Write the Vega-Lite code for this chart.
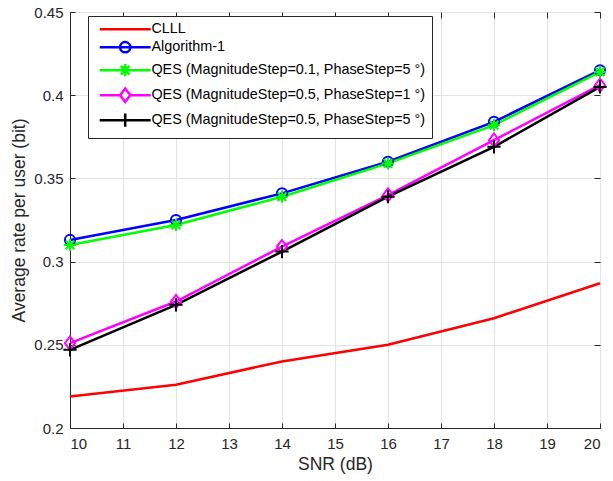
{
  "$schema": "https://vega.github.io/schema/vega-lite/v6.json",
  "width": 530,
  "height": 416,
  "autosize": {"type": "none"},
  "padding": {"left": 70, "top": 12, "right": 13, "bottom": 53},
  "background": "white",
  "config": {
    "font": "Liberation Sans",
    "view": {"stroke": "#262626", "strokeWidth": 1},
    "axis": {
      "domainColor": "#262626",
      "tickColor": "#262626",
      "labelColor": "#262626",
      "titleColor": "#262626",
      "labelFont": "Liberation Sans",
      "titleFont": "Liberation Sans",
      "labelFontSize": 15,
      "titleFontSize": 17.5,
      "titleFontWeight": "normal",
      "gridColor": "#e3e3e3",
      "gridWidth": 1,
      "tickSize": -5
    },
    "legend": {
      "orient": "none",
      "legendX": 18,
      "legendY": 4,
      "fillColor": "white",
      "strokeColor": "#262626",
      "padding": 6,
      "symbolSize": 104,
      "symbolStrokeWidth": 2.5,
      "symbolOpacity": 1,
      "symbolOffset": 24,
      "labelOffset": 19,
      "labelFontSize": 14.4,
      "labelFont": "Liberation Sans",
      "labelColor": "#000000",
      "labelLimit": 400,
      "rowPadding": 1
    }
  },
  "resolve": {
    "axis": {"x": "independent", "y": "independent"},
    "scale": {"shape": "independent", "stroke": "independent"},
    "legend": {"shape": "independent", "stroke": "independent"}
  },
  "data": {
    "values": [
      {"snr": 10, "rate": 0.219, "series": "CLLL"},
      {"snr": 12, "rate": 0.226, "series": "CLLL"},
      {"snr": 14, "rate": 0.240, "series": "CLLL"},
      {"snr": 16, "rate": 0.250, "series": "CLLL"},
      {"snr": 18, "rate": 0.266, "series": "CLLL"},
      {"snr": 20, "rate": 0.287, "series": "CLLL"},
      {"snr": 10, "rate": 0.313, "series": "Algorithm-1"},
      {"snr": 12, "rate": 0.325, "series": "Algorithm-1"},
      {"snr": 14, "rate": 0.341, "series": "Algorithm-1"},
      {"snr": 16, "rate": 0.360, "series": "Algorithm-1"},
      {"snr": 18, "rate": 0.384, "series": "Algorithm-1"},
      {"snr": 20, "rate": 0.415, "series": "Algorithm-1"},
      {"snr": 10, "rate": 0.310, "series": "QES (MagnitudeStep=0.1, PhaseStep=5 °)"},
      {"snr": 12, "rate": 0.322, "series": "QES (MagnitudeStep=0.1, PhaseStep=5 °)"},
      {"snr": 14, "rate": 0.339, "series": "QES (MagnitudeStep=0.1, PhaseStep=5 °)"},
      {"snr": 16, "rate": 0.359, "series": "QES (MagnitudeStep=0.1, PhaseStep=5 °)"},
      {"snr": 18, "rate": 0.382, "series": "QES (MagnitudeStep=0.1, PhaseStep=5 °)"},
      {"snr": 20, "rate": 0.414, "series": "QES (MagnitudeStep=0.1, PhaseStep=5 °)"},
      {"snr": 10, "rate": 0.251, "series": "QES (MagnitudeStep=0.5, PhaseStep=1 °)"},
      {"snr": 12, "rate": 0.276, "series": "QES (MagnitudeStep=0.5, PhaseStep=1 °)"},
      {"snr": 14, "rate": 0.309, "series": "QES (MagnitudeStep=0.5, PhaseStep=1 °)"},
      {"snr": 16, "rate": 0.340, "series": "QES (MagnitudeStep=0.5, PhaseStep=1 °)"},
      {"snr": 18, "rate": 0.373, "series": "QES (MagnitudeStep=0.5, PhaseStep=1 °)"},
      {"snr": 20, "rate": 0.406, "series": "QES (MagnitudeStep=0.5, PhaseStep=1 °)"},
      {"snr": 10, "rate": 0.247, "series": "QES (MagnitudeStep=0.5, PhaseStep=5 °)"},
      {"snr": 12, "rate": 0.274, "series": "QES (MagnitudeStep=0.5, PhaseStep=5 °)"},
      {"snr": 14, "rate": 0.306, "series": "QES (MagnitudeStep=0.5, PhaseStep=5 °)"},
      {"snr": 16, "rate": 0.339, "series": "QES (MagnitudeStep=0.5, PhaseStep=5 °)"},
      {"snr": 18, "rate": 0.369, "series": "QES (MagnitudeStep=0.5, PhaseStep=5 °)"},
      {"snr": 20, "rate": 0.405, "series": "QES (MagnitudeStep=0.5, PhaseStep=5 °)"}
    ]
  },
  "layer": [
    {
      "mark": {"type": "line", "strokeWidth": 2.5},
      "encoding": {
        "x": {
          "field": "snr", "type": "quantitative",
          "scale": {"domain": [10, 20], "nice": false, "zero": false},
          "axis": {"title": "SNR (dB)", "values": [10,11,12,13,14,15,16,17,18,19,20], "labelPadding": 13, "titlePadding": 4}
        },
        "y": {
          "field": "rate", "type": "quantitative",
          "scale": {"domain": [0.2, 0.45], "nice": false, "zero": false},
          "axis": {"title": "Average rate per user (bit)", "values": [0.2,0.25,0.3,0.35,0.4,0.45], "format": ".2~f", "labelPadding": 12, "titlePadding": 5}
        },
        "color": {
          "field": "series", "type": "nominal",
          "scale": {
            "domain": ["CLLL", "Algorithm-1", "QES (MagnitudeStep=0.1, PhaseStep=5 °)", "QES (MagnitudeStep=0.5, PhaseStep=1 °)", "QES (MagnitudeStep=0.5, PhaseStep=5 °)"],
            "range": ["#ff0000", "#0000ff", "#00ff00", "#ff00ff", "#000000"]
          },
          "legend": null
        },
        "order": {"field": "snr"}
      }
    },
    {
      "mark": {"type": "point", "filled": false, "strokeWidth": 2, "size": 104, "opacity": 1},
      "encoding": {
        "x": {
          "field": "snr", "type": "quantitative",
          "axis": {"orient": "top", "title": null, "labels": false, "grid": false, "domain": false, "ticks": true, "tickSize": -6, "tickWidth": 1, "tickColor": "#262626", "values": [10,11,12,13,14,15,16,17,18,19,20]}
        },
        "y": {
          "field": "rate", "type": "quantitative",
          "axis": {"orient": "right", "title": null, "labels": false, "grid": false, "domain": false, "ticks": true, "tickSize": -6, "tickWidth": 1, "tickColor": "#262626", "values": [0.2,0.25,0.3,0.35,0.4,0.45]}
        },
        "color": {"field": "series", "type": "nominal", "legend": null},
        "shape": {
          "field": "series", "type": "nominal",
          "scale": {
            "domain": ["CLLL", "Algorithm-1", "QES (MagnitudeStep=0.1, PhaseStep=5 °)", "QES (MagnitudeStep=0.5, PhaseStep=1 °)", "QES (MagnitudeStep=0.5, PhaseStep=5 °)"],
            "range": [
              "M0,0",
              "M1,0A1,1 0 1,1 -1,0A1,1 0 1,1 1,0Z",
              "M0,-1.2V1.2M-1.2,0H1.2M-0.85,-0.85L0.85,0.85M-0.85,0.85L0.85,-0.85",
              "M0,-1.3L1,0L0,1.3L-1,0Z",
              "M0,-1.3V1.3M-1.3,0H1.3"
            ]
          },
          "legend": null
        }
      }
    },
    {
      "mark": {"type": "point", "filled": false, "strokeWidth": 2.5, "size": 104, "opacity": 0},
      "encoding": {
        "x": {"field": "snr", "type": "quantitative", "axis": null},
        "y": {"field": "rate", "type": "quantitative", "axis": null},
        "stroke": {
          "field": "series", "type": "nominal",
          "scale": {
            "domain": ["CLLL", "Algorithm-1", "QES (MagnitudeStep=0.1, PhaseStep=5 °)", "QES (MagnitudeStep=0.5, PhaseStep=1 °)", "QES (MagnitudeStep=0.5, PhaseStep=5 °)"],
            "range": ["#ff0000", "#0000ff", "#00ff00", "#ff00ff", "#000000"]
          },
          "legend": {"title": null}
        },
        "shape": {
          "field": "series", "type": "nominal",
          "scale": {
            "domain": ["CLLL", "Algorithm-1", "QES (MagnitudeStep=0.1, PhaseStep=5 °)", "QES (MagnitudeStep=0.5, PhaseStep=1 °)", "QES (MagnitudeStep=0.5, PhaseStep=5 °)"],
            "range": [
              "M-5,0H5",
              "M-5,0H5M1,0A1,1 0 1,1 -1,0A1,1 0 1,1 1,0Z",
              "M-5,0H5M0,-1.2V1.2M-0.85,-0.85L0.85,0.85M-0.85,0.85L0.85,-0.85",
              "M-5,0H-1M1,0H5M0,-1.3L1,0L0,1.3L-1,0Z",
              "M-5,0H5M0,-1.3V1.3"
            ]
          },
          "legend": {"title": null}
        }
      }
    }
  ]
}
